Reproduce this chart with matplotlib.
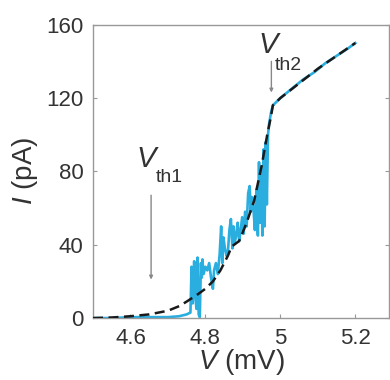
import matplotlib
matplotlib.use("Agg")
import matplotlib.pyplot as plt

plt.rcParams['font.family'] = ['Liberation Sans', 'DejaVu Sans']
plt.rcParams['mathtext.fontset'] = 'custom'
plt.rcParams['mathtext.rm'] = 'Liberation Sans'
plt.rcParams['mathtext.it'] = 'Liberation Sans:italic'

# Measured data (cyan, noisy)
v_data = [4.50, 4.55, 4.60, 4.65, 4.70, 4.73, 4.75, 4.760, 4.763, 4.766, 4.770, 4.773,
          4.776, 4.779, 4.782, 4.785, 4.788, 4.790, 4.792, 4.795, 4.800, 4.805, 4.810,
          4.815, 4.820, 4.823, 4.828, 4.833, 4.838, 4.842, 4.845, 4.848, 4.852, 4.856,
          4.860, 4.864, 4.868, 4.872, 4.875, 4.878, 4.882, 4.886, 4.890, 4.894, 4.898,
          4.902, 4.906, 4.910, 4.914, 4.918, 4.921, 4.924, 4.928, 4.932, 4.936, 4.940,
          4.943, 4.946, 4.949, 4.952, 4.955, 4.958, 4.961, 4.964, 4.967, 4.970, 4.975,
          4.980, 5.00, 5.03, 5.06, 5.09, 5.12, 5.15, 5.18, 5.20]
i_data = [0.0, 0.0, 0.5, 0.5, 0.5, 1.0, 2.0, 3.0, 28.0, 8.0, 31.0, 12.0,
          5.0, 33.0, 2.0, 0.5, 30.0, 22.0, 32.0, 24.0, 28.0, 26.0, 30.0,
          22.0, 16.0, 26.0, 30.0, 24.0, 35.0, 50.0, 30.0, 44.0, 38.0, 34.0,
          36.0, 48.0, 54.0, 38.0, 50.0, 41.0, 45.0, 52.0, 42.0, 48.0, 55.0,
          46.0, 58.0, 50.0, 68.0, 72.0, 58.0, 66.0, 60.0, 48.0, 70.0, 45.0,
          85.0, 52.0, 80.0, 45.0, 92.0, 50.0, 96.0, 62.0, 100.0, 106.0, 112.0,
          116.0, 120.0, 125.0, 130.0, 134.0, 139.0, 143.0, 147.0, 150.0]

# Fit curve (black dashed)
v_fit = [4.50, 4.55, 4.60, 4.65, 4.70, 4.73, 4.75, 4.78, 4.80, 4.82, 4.84, 4.86,
         4.87, 4.89, 4.91, 4.93, 4.95, 4.965, 4.975, 4.980, 5.00, 5.05, 5.10, 5.15, 5.20]
i_fit = [0.0, 0.3, 1.0, 2.0, 4.0, 6.5, 9.0, 13.0, 16.0, 20.0, 26.0, 34.0,
         39.0, 42.0, 52.0, 64.0, 83.0, 100.0, 110.0, 116.0, 120.0, 128.0, 136.0, 143.0, 150.0]

x_ticks = [4.6, 4.8, 5.0, 5.2]
x_ticklabels = ['4.6', '4.8', '5', '5.2']
y_ticks = [0, 40, 80, 120, 160]

fig = plt.figure(figsize=(3.9, 3.8), dpi=100)
ax = fig.add_axes([0.2385, 0.163, 0.759, 0.772])

ax.plot(v_data, i_data, color='#2aaee0', lw=1.9, zorder=2)
ax.plot(v_fit, i_fit, color='#1a1a1a', lw=1.8, dashes=(4, 2.2), zorder=3)

ax.set_xlim(4.5, 5.29)
ax.set_ylim(0, 160)
ax.set_xticks(x_ticks)
ax.set_xticklabels(x_ticklabels)
ax.set_yticks(y_ticks)
ax.tick_params(direction='in', length=3, width=0.8, colors='#999999',
               labelcolor='#333333', labelsize=16, top=False, right=True, pad=7)
for s in ax.spines.values():
    s.set_color('#999999')
    s.set_linewidth(1.0)

ax.set_xlabel('$\\mathit{V}$ (mV)', fontsize=20, color='#333333', labelpad=-1)
ax.set_ylabel('$\\mathit{I}$ (pA)', fontsize=20, color='#333333', labelpad=4)

# Annotations
ax.annotate('', xy=(4.655, 21), xytext=(4.655, 67),
            arrowprops=dict(arrowstyle='-|>', color='#888888', lw=1.0,
                            mutation_scale=5, shrinkA=0, shrinkB=0))
ax.text(4.642, 87, 'V', fontsize=21, style='italic', color='#333333', ha='center', va='center')
ax.text(4.704, 76.5, 'th1', fontsize=14, color='#333333', ha='center', va='center')

ax.annotate('', xy=(4.976, 123), xytext=(4.976, 140),
            arrowprops=dict(arrowstyle='-|>', color='#888888', lw=1.0,
                            mutation_scale=5, shrinkA=0, shrinkB=0))
ax.text(4.968, 149, 'V', fontsize=21, style='italic', color='#333333', ha='center', va='center')
ax.text(5.021, 138, 'th2', fontsize=14, color='#333333', ha='center', va='center')

fig.savefig('out.png', dpi=100)
